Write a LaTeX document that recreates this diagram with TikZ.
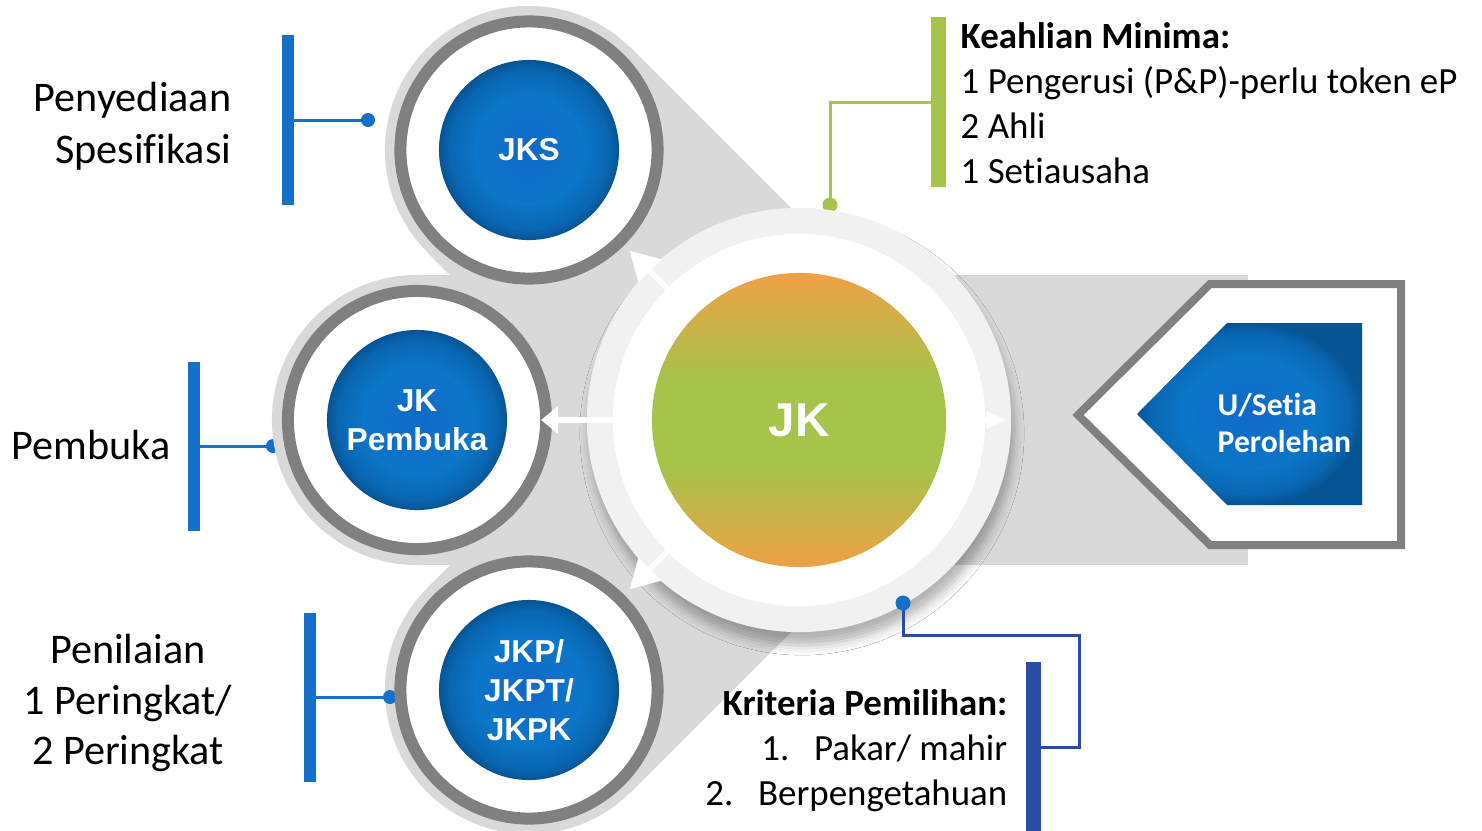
\documentclass[tikz,border=0pt]{standalone}
\usepackage{fontspec}
\setmainfont{Carlito}[Ligatures={NoCommon}]
\newfontfamily\arialf{Liberation Sans}
\usetikzlibrary{arrows.meta,shadows.blur}

\definecolor{bandgray}{RGB}{217,217,217}
\definecolor{ringdark}{RGB}{128,128,128}
\definecolor{ringlight}{RGB}{241,241,241}
\definecolor{linkblue}{RGB}{20,112,200}
\definecolor{linkgreen}{RGB}{166,195,74}
\definecolor{linknavy}{RGB}{43,76,163}
\definecolor{jkorange}{RGB}{240,160,70}
\definecolor{jkgreen}{RGB}{166,195,74}
\definecolor{bA}{RGB}{17,105,200}
\definecolor{bB}{RGB}{12,118,200}
\definecolor{bC}{RGB}{9,102,178}
\definecolor{bD}{RGB}{6,84,148}

\pgfdeclareradialshading{bluedisk}{\pgfpoint{0bp}{0bp}}{color(0bp)=(bA); color(15bp)=(bB); color(22bp)=(bC); color(25bp)=(bD); color(50bp)=(bD)}
\pgfdeclareverticalshading{jkshade}{100bp}{color(0bp)=(jkorange); color(25bp)=(jkorange); color(42bp)=(jkgreen); color(57bp)=(jkgreen); color(75bp)=(jkorange); color(100bp)=(jkorange)}

\begin{document}
\begin{tikzpicture}[x=0.01cm,y=-0.01cm,
  bluenode/.style={circle, minimum size=1.8cm, inner sep=0pt, shading=bluedisk, text=white, font=\arialf\bfseries\fontsize{9}{11}\selectfont, align=center},
  lbl/.style={inner sep=0pt, font=\fontsize{12}{14.8}\selectfont, text=black},
  rlbl/.style={inner sep=0pt, font=\fontsize{10.5}{12.8}\selectfont, text=black},
  vbar/.style={line width=0.12cm},
  linkline/.style={line width=0.03cm},
  warrow/.style={draw=white, line width=0.055cm},
  darkringstyle/.style={draw=ringdark, line width=0.12cm, fill=white}
]
\fill[white] (0,0) rectangle (1482,830);
\useasboundingbox (0,0) rectangle (1482,830);

% left connector coordinates
\coordinate (b1t) at (288,35);  \coordinate (b1b) at (288,205); \coordinate (d1) at (368,120);
\coordinate (b2t) at (194,362); \coordinate (b2b) at (194,531); \coordinate (d2) at (273,446);
\coordinate (b3t) at (310,613); \coordinate (b3b) at (310,782); \coordinate (d3) at (390,697);

\draw[vbar, linkblue] (b1t) -- (b1b);
\draw[linkline, linkblue] (d1) -- (d1 -| b1t);
\fill[linkblue] (d1) circle (0.07cm);
\draw[vbar, linkblue] (b2t) -- (b2b);
\draw[linkline, linkblue] (d2) -- (d2 -| b2t);
\fill[linkblue] (d2) circle (0.07cm);
\draw[vbar, linkblue] (b3t) -- (b3b);
\draw[linkline, linkblue] (d3) -- (d3 -| b3t);

% green connector
\coordinate (g1t) at (938,17); \coordinate (g1b) at (938,187);
\coordinate (gj) at (938,102); \coordinate (gd) at (830,205);
\draw[linkgreen, line width=0.15cm] (g1t) -- (g1b);
\draw[linkline, linkgreen] (gd) |- (gj);
\fill[linkgreen] (gd) circle (0.075cm);

% gray bands
\fill[bandgray] (417,275) rectangle (1248,565);
\fill[bandgray] (631,48) -- (901,318) -- (697,522) -- (427,252) -- cycle;
\fill[bandgray] (631,792) -- (901,522) -- (697,318) -- (427,588) -- cycle;
\fill[bandgray] (529,150) circle (1.44cm);
\fill[bandgray] (417,420) circle (1.45cm);
\fill[bandgray] (529,690) circle (1.44cm);

\fill[linkblue] (d3) circle (0.07cm);

% dark rings
\draw[darkringstyle] (529,150) circle (1.285cm);
\draw[darkringstyle] (417,420) circle (1.29cm);
\draw[darkringstyle] (529,690) circle (1.285cm);

% pentagon
\draw[ringdark, line width=0.08cm, fill=white] (1078,415) -- (1210,284) -- (1401,284) -- (1401,545) -- (1210,545) -- cycle;
\shade[shading=bluedisk] (1137,414) -- (1227,323) -- (1362,323) -- (1362,505) -- (1227,505) -- cycle;
\node[inner sep=0pt, anchor=west, align=left, text=white, font=\bfseries\fontsize{9}{10.8}\selectfont] (uset) at (1217,423) {U/Setia\\Perolehan};
\coordinate (pent) at (1250,420);

% central
\node[circle, minimum size=4.24cm, inner sep=0pt, fill=ringlight,
  blur shadow={shadow xshift=0.3mm, shadow yshift=-1.3mm, shadow blur radius=1mm, shadow opacity=30}] (jkring) at (799,420) {};
\fill[white] (jkring.center) circle (1.86cm);
\node[circle, minimum size=2.94cm, inner sep=0pt, shading=jkshade, text=white, font=\arialf\bfseries\fontsize{13.5}{16}\selectfont] (jk) at (799,420) {JK};

% blue nodes
\node[bluenode] (jks) at (529,150) {JKS};
\node[bluenode] (jkpb) at (417,420) {JK\\Pembuka};
\node[bluenode] (jkpt) at (529,690) {JKP/\\JKPT/\\JKPK};

% white arrows
\draw[warrow, -{Triangle[length=0.29cm,width=0.31cm]}, shorten <=1.8cm, shorten >=1.42cm] (jk.center) -- (jks.center);
\draw[warrow, -{Triangle[length=0.17cm,width=0.27cm]}, shorten <=1.8cm, shorten >=1.24cm] (jk.center) -- (jkpb.center);
\draw[warrow, -{Triangle[length=0.29cm,width=0.31cm]}, shorten <=1.8cm, shorten >=1.42cm] (jk.center) -- (jkpt.center);
\draw[warrow, -{Triangle[length=0.2cm,width=0.16cm]}, shorten <=1.84cm, shorten >=2.43cm] (jk.center) -- (pent);

% navy connector
\coordinate (nd) at (903,603); \coordinate (n1) at (903,635); \coordinate (n2) at (1079,635);
\coordinate (n3) at (1079,747); \coordinate (nbt) at (1033,662); \coordinate (nbb) at (1033,840);
\draw[linknavy, line width=0.15cm] (nbt) -- (nbb);
\draw[linkline, linknavy] (nd) -- (n1) -- (n2) -- (n3) -- (n3 -| nbt);
\fill[linkblue] (nd) circle (0.075cm);

% texts
\node[lbl, align=right, anchor=east] (t1) at (232,126) {Penyediaan\\Spesifikasi};
\node[lbl] (t2) at (91,445) {Pembuka};
\node[lbl, align=center, font=\fontsize{12}{14.4}\selectfont] (t3) at (128,703) {Penilaian\\1 Peringkat/\\2 Peringkat};
\node[rlbl, align=left, anchor=west] (t4) at (960,103) {\textbf{Keahlian Minima:}\\1 Pengerusi (P\&P)-perlu token eP\\2 Ahli\\1 Setiausaha};
\node[rlbl, align=right, anchor=east] (t5) at (1008,751) {\textbf{Kriteria Pemilihan:}\\1.\hspace{7pt}Pakar/ mahir\\2.\hspace{7pt}Berpengetahuan};
\end{tikzpicture}
\end{document}
